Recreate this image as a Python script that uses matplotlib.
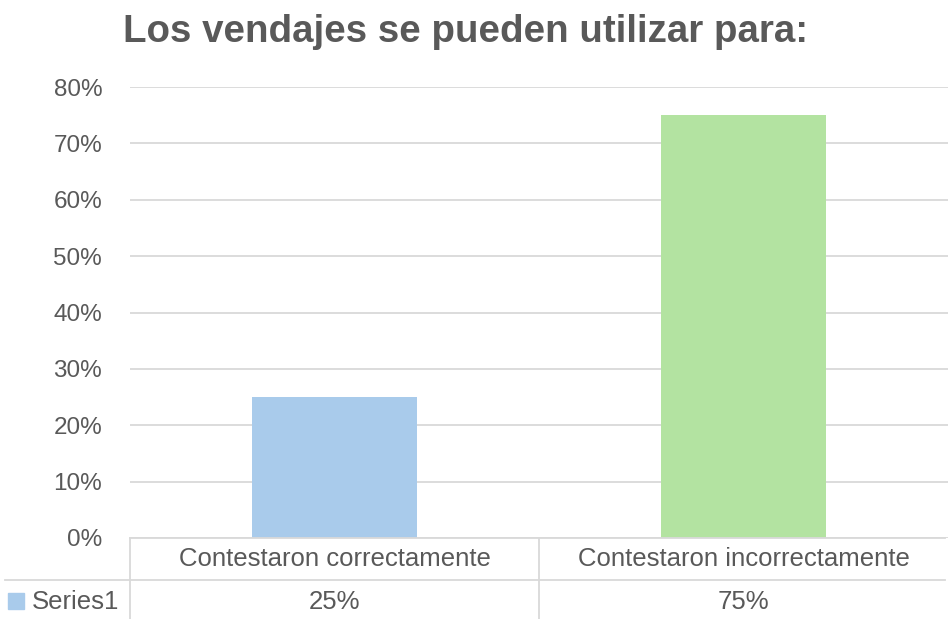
import matplotlib
matplotlib.use("Agg")
import matplotlib.pyplot as plt
from matplotlib.lines import Line2D
from matplotlib.patches import Rectangle

plt.rcParams['font.family'] = ['Liberation Sans', 'DejaVu Sans']

title = "Los vendajes se pueden utilizar para:"
categories = ["Contestaron correctamente", "Contestaron incorrectamente"]
values = [0.25, 0.75]
value_labels = ["25%", "75%"]
series_name = "Series1"
bar_colors = ["#A9CBEB", "#B3E3A1"]
yticks = [0, 0.1, 0.2, 0.3, 0.4, 0.5, 0.6, 0.7, 0.8]

W, H = 948, 619
txt = "#595959"
grid = "#D9D9D9"

fig = plt.figure(figsize=(W / 100, H / 100), dpi=100)
ax = fig.add_axes([130 / W, (H - 538) / H, 818 / W, (538 - 87) / H])

x = list(range(len(categories)))
ax.bar(x, values, width=0.405, color=bar_colors, zorder=2)
ax.set_xlim(-0.5, len(categories) - 0.5)
ax.set_ylim(0, 0.8)
ax.set_yticks(yticks)
ax.set_yticklabels([f"{int(round(t * 100))}%" for t in yticks], color=txt, fontsize=17.5)
ax.tick_params(axis="y", length=0, pad=20)
ax.set_xticks([])
ax.grid(axis="y", color=grid, linewidth=1.3, zorder=0)
for s in ax.spines.values():
    s.set_visible(False)

# data table under the plot
def fx(px):
    return px / W

def fy(py):
    return 1 - py / H

lc = "#D9D9D9"
fig.add_artist(Line2D([fx(130), fx(945)], [fy(538), fy(538)], color=lc, lw=1.3))
fig.add_artist(Line2D([fx(5), fx(945)], [fy(580), fy(580)], color=lc, lw=1.3))
fig.add_artist(Line2D([fx(130), fx(130)], [fy(538), fy(619)], color=lc, lw=1.3))
fig.add_artist(Line2D([fx(539), fx(539)], [fy(538), fy(619)], color=lc, lw=1.3))

for i, (cat, lab) in enumerate(zip(categories, value_labels)):
    cx = ax.transData.transform((i, 0))[0] / W
    fig.text(cx, fy(559), cat, ha="center", va="center", color=txt, fontsize=18.5)
    fig.text(cx, fy(602), lab, ha="center", va="center", color=txt, fontsize=18.5)

fig.add_artist(Rectangle((fx(8), fy(609)), fx(16), 16 / H, color=bar_colors[0]))
fig.text(fx(32), fy(602), series_name, ha="left", va="center", color=txt, fontsize=18.5)

fig.text(fx(123), fy(42), title, ha="left", va="baseline", color=txt,
         fontsize=27.7, fontweight="bold")

fig.savefig("out.png", dpi=100)
